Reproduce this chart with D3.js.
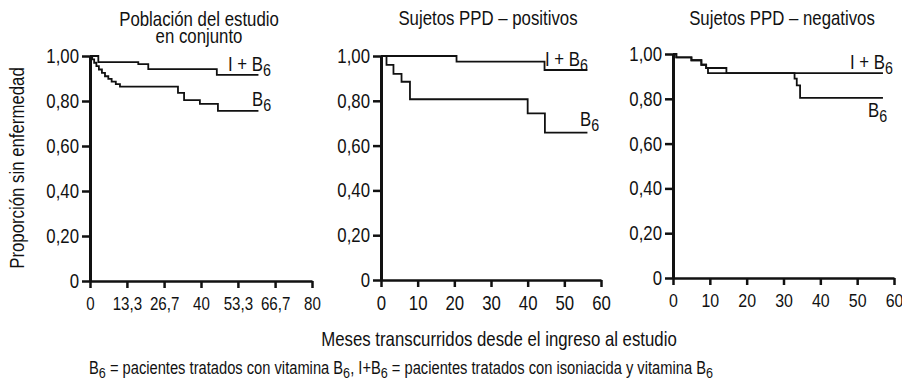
<!DOCTYPE html>
<html>
<head>
<meta charset="utf-8">
<script src="https://cdn.jsdelivr.net/npm/d3@7"></script>
<style>
  body { margin: 0; background: #fff; }
  svg text { font-family: "Liberation Sans", Arial, sans-serif; fill: #111; }
</style>
</head>
<body>
<div id="vis"></div>
<script>
// y axis ticks shared by the three panels
var yTicks = [0, 0.2, 0.4, 0.6, 0.8, 1];
var yTickLabels = ['0', '0,20', '0,40', '0,60', '0,80', '1,00'];

// panel titles
var titles1 = ['Población del estudio', 'en conjunto'];
var titles2 = ['Sujetos PPD – positivos'];
var titles3 = ['Sujetos PPD – negativos'];

// x ticks (months)
var xTicks1 = [0, 13.3, 26.7, 40, 53.3, 66.7, 80];
var xTickLabels1 = ['0', '13,3', '26,7', '40', '53,3', '66,7', '80'];
var xTicks2 = [0, 10, 20, 30, 40, 50, 60];
var xTickLabels2 = ['0', '10', '20', '30', '40', '50', '60'];

// survival curves, [month, proportion]
var p1IB6 = [[0, 1], [3.0, 0.973], [17.4, 0.964], [21.0, 0.942], [45.7, 0.916], [60.7, 0.916]];
var p1B6 = [[0, 1], [0.8, 0.985], [1.5, 0.97], [2.3, 0.955], [3.2, 0.94], [4.3, 0.925],
  [5.4, 0.91], [6.6, 0.898], [7.8, 0.886], [9.3, 0.875], [10.8, 0.864],
  [31.7, 0.836], [33.9, 0.804], [39.6, 0.787], [46.1, 0.756], [60.7, 0.756]];
var p2IB6 = [[0, 1], [20.6, 0.975], [44.6, 0.9375], [56.3, 0.9375]];
var p2B6 = [[0, 1], [1.5, 0.96], [3.4, 0.92], [5.6, 0.885], [7.9, 0.807],
  [40, 0.744], [44.7, 0.658], [56.3, 0.658]];
var p3IB6 = [[0, 1], [0.9, 0.985], [5, 0.972], [7.7, 0.952], [9, 0.9375], [14.5, 0.915], [57, 0.915]];
var p3B6 = [[0, 1], [0.9, 0.985], [5, 0.972], [7.7, 0.952], [9, 0.9375], [9.5, 0.915],
  [33, 0.89], [33.6, 0.86], [34.5, 0.804], [57, 0.804]];

var width = 902;
var height = 386;
// the original face is a narrow grotesque, so squeeze glyphs horizontally
var squeeze = 0.84;

var svg = d3.select('#vis').append('svg')
  .attr('width', width)
  .attr('height', height);

var panels = [
  { x0: 90, x1: 312, y0: 281, y1: 56, xMax: 80, xTicks: xTicks1, xLabels: xTickLabels1, xFont: 18,
    titles: titles1, titleX: 199, titleY: 26,
    ib6: p1IB6, b6: p1B6, ib6Label: [228, 71], b6Label: [252, 106] },
  { x0: 381, x1: 601, y0: 280, y1: 56, xMax: 60, xTicks: xTicks2, xLabels: xTickLabels2, xFont: 20,
    titles: titles2, titleX: 488, titleY: 25,
    ib6: p2IB6, b6: p2B6, ib6Label: [545, 66], b6Label: [580, 126] },
  { x0: 673, x1: 894, y0: 278, y1: 54, xMax: 60, xTicks: xTicks2, xLabels: xTickLabels2, xFont: 19,
    titles: titles3, titleX: 782, titleY: 25,
    ib6: p3IB6, b6: p3B6, ib6Label: [850, 69], b6Label: [868, 117] }
];

// label with a subscript 6
function subLabel(g, x, y, main, size) {
  var t = g.append('text')
    .attr('x', x).attr('y', y)
    .style('font-size', size + 'px');
  t.append('tspan').text(main);
  t.append('tspan').attr('dy', size * 0.25).style('font-size', (size * 0.85) + 'px').text('6');
  return t;
}

panels.forEach(function (p) {
  var x = d3.scaleLinear().domain([0, p.xMax]).range([p.x0, p.x1]);
  var y = d3.scaleLinear().domain([0, 1]).range([p.y0, p.y1]);
  var g = svg.append('g');

  // y axis
  var yAxis = d3.axisLeft(y)
    .tickValues(yTicks)
    .tickFormat(function (d, i) { return yTickLabels[i]; })
    .tickSize(8)
    .tickSizeOuter(0)
    .tickPadding(3);
  var ya = g.append('g')
    .attr('transform', 'translate(' + p.x0 + ',0)')
    .call(yAxis);
  ya.select('.domain').attr('stroke-width', 3).attr('stroke', '#111');
  ya.selectAll('.tick line').attr('stroke-width', 2.5).attr('stroke', '#111');
  ya.selectAll('.tick text').style('font-size', '20px').attr('fill', '#111');

  // x axis
  var xAxis = d3.axisBottom(x)
    .tickValues(p.xTicks)
    .tickFormat(function (d, i) { return p.xLabels[i]; })
    .tickSize(7)
    .tickSizeOuter(0)
    .tickPadding(9);
  var xa = g.append('g')
    .attr('transform', 'translate(0,' + p.y0 + ')')
    .call(xAxis);
  xa.select('.domain').attr('stroke-width', 2.5).attr('stroke', '#111');
  xa.selectAll('.tick line').attr('stroke-width', 2.5).attr('stroke', '#111');
  xa.selectAll('.tick text').style('font-size', p.xFont + 'px').attr('fill', '#111');

  // title
  g.selectAll('.title').data(p.titles).enter().append('text')
    .attr('class', 'title')
    .attr('x', p.titleX)
    .attr('y', function (d, i) { return p.titleY + i * 17; })
    .attr('text-anchor', 'middle')
    .style('font-size', '20px')
    .text(function (d) { return d; });

  // curves
  var line = d3.line()
    .x(function (d) { return x(d[0]); })
    .y(function (d) { return y(d[1]); })
    .curve(d3.curveStepAfter);
  [p.ib6, p.b6].forEach(function (s) {
    g.append('path')
      .datum(s)
      .attr('d', line)
      .attr('fill', 'none')
      .attr('stroke', '#111')
      .attr('stroke-width', 1.8);
  });

  subLabel(g, p.ib6Label[0], p.ib6Label[1], 'I + B', 20);
  subLabel(g, p.b6Label[0], p.b6Label[1], 'B', 20);
});

// y axis title
svg.append('text')
  .attr('transform', 'translate(24,168) rotate(-90)')
  .attr('text-anchor', 'middle')
  .style('font-size', '20px')
  .text('Proporción sin enfermedad');

// x axis title
svg.append('text')
  .attr('x', 499)
  .attr('y', 346)
  .attr('text-anchor', 'middle')
  .style('font-size', '20px')
  .text('Meses transcurridos desde el ingreso al estudio');

// footnote
var foot = svg.append('text')
  .attr('x', 89)
  .attr('y', 374)
  .style('font-size', '17.5px');
foot.append('tspan').text('B');
foot.append('tspan').attr('dy', 4).style('font-size', '15px').text('6');
foot.append('tspan').attr('dy', -4).text(' = pacientes tratados con vitamina B');
foot.append('tspan').attr('dy', 4).style('font-size', '15px').text('6');
foot.append('tspan').attr('dy', -4).text(',  I+B');
foot.append('tspan').attr('dy', 4).style('font-size', '15px').text('6');
foot.append('tspan').attr('dy', -4).text(' = pacientes tratados con isoniacida y vitamina B');
foot.append('tspan').attr('dy', 4).style('font-size', '15px').text('6');

// squeeze every text horizontally around its anchor point
svg.selectAll('text').each(function () {
  var t = d3.select(this);
  var ax = +t.attr('x') || 0;
  var tr = t.attr('transform') || '';
  t.attr('transform', tr + ' translate(' + ax + ',0) scale(' + squeeze + ',1) translate(' + (-ax) + ',0)');
});
</script>
</body>
</html>
